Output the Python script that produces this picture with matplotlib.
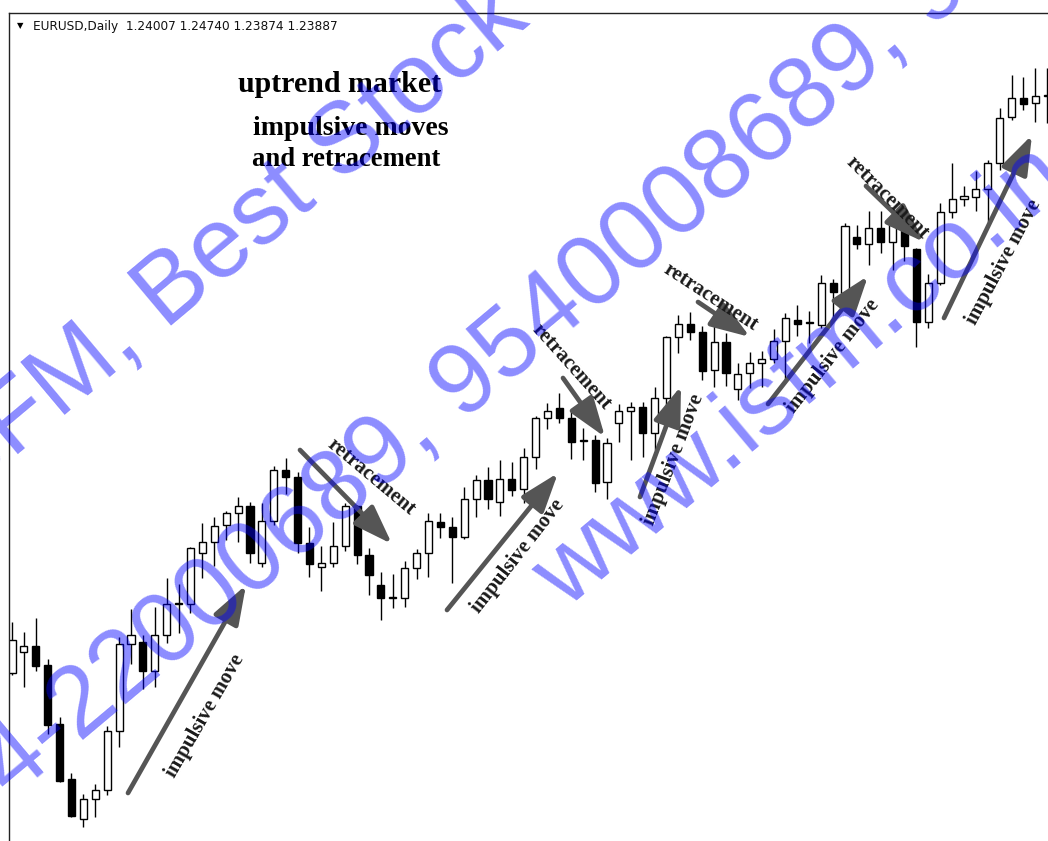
import numpy as np
import matplotlib.pyplot as plt

# candle data (arbitrary price units, one candle per day)
opens = [168, 189, 195, 176, 117, 62, 22, 42, 51, 110, 197, 199, 170, 206, 237, 237,
         288, 299, 316, 328, 335, 278, 320, 371, 364, 298, 274, 278, 295, 335, 286, 256,
         243, 243, 273, 288, 319, 314, 304, 342, 361, 339, 362, 352, 384, 423, 433, 423,
         400, 401, 359, 418, 430, 434, 408, 443, 504, 517, 509, 471, 499, 452, 468, 478,
         482, 500, 521, 518, 516, 558, 548, 604, 597, 613, 599, 616, 592, 519, 558, 629,
         642, 644, 652, 678, 724, 743, 738, 745]
highs = [219, 209, 223, 182, 124, 68, 47, 57, 115, 204, 232, 206, 234, 263, 257, 294,
         318, 324, 330, 344, 339, 338, 375, 383, 369, 314, 295, 319, 338, 336, 293, 269,
         267, 280, 292, 328, 328, 324, 354, 366, 374, 381, 379, 393, 425, 438, 448, 430,
         413, 406, 403, 437, 439, 439, 454, 505, 526, 529, 515, 518, 508, 478, 489, 490,
         512, 528, 536, 530, 566, 562, 618, 616, 630, 630, 628, 617, 593, 567, 638, 678,
         655, 670, 681, 733, 766, 764, 773, 773]
lows = [166, 154, 170, 107, 59, 24, 14, 24, 46, 94, 177, 152, 154, 198, 208, 228,
        263, 275, 301, 299, 278, 274, 316, 347, 288, 264, 250, 274, 290, 277, 246, 221,
        233, 234, 262, 264, 303, 258, 302, 324, 332, 325, 345, 338, 372, 412, 418, 382,
        381, 349, 342, 399, 381, 384, 391, 428, 488, 501, 461, 454, 455, 441, 453, 454,
        478, 458, 505, 498, 513, 523, 543, 592, 576, 588, 571, 580, 494, 513, 556, 623,
        635, 630, 619, 671, 721, 731, 719, 718]
closes = [201, 195, 175, 116, 60, 25, 42, 51, 110, 197, 206, 170, 206, 237, 238, 293,
          299, 315, 328, 335, 288, 320, 371, 364, 298, 277, 278, 295, 335, 286, 266, 243,
          244, 273, 288, 320, 314, 304, 342, 361, 342, 362, 351, 384, 423, 430, 423, 399,
          401, 358, 398, 430, 434, 408, 443, 504, 517, 509, 470, 499, 468, 467, 478, 482,
          500, 523, 517, 519, 558, 549, 615, 597, 613, 599, 616, 595, 519, 558, 629, 642,
          645, 652, 678, 723, 743, 737, 745, 746]

header = "EURUSD,Daily  1.24007 1.24740 1.23874 1.23887"
title_lines = ["uptrend market", "impulsive moves", "and retracement"]
watermark = ["ISFM, Best Stock", "4-22000689, 9540008689, 9", "www.isfm.co.in"]

# arrows in picture pixels: (tail x, tail y, tip x, tip y)
arrows = [(128, 793, 246, 585), (300, 450, 392, 544), (447, 610, 558, 473),
          (563, 378, 605, 437), (640, 497, 681, 386), (698, 302, 750, 337),
          (768, 404, 868, 276), (866, 186, 924, 242), (944, 318, 1032, 135)]
# labels: (text, x, y, rotation)
labels = [("impulsive move", 205, 716, 60), ("retracement", 371, 477, -40),
          ("impulsive move", 518, 556, 52), ("retracement", 572, 367, -48),
          ("impulsive move", 674, 460, 69), ("retracement", 711, 297, -33),
          ("impulsive move", 833, 356, 52), ("retracement", 887, 198, -45),
          ("impulsive move", 1004, 262, 62)]

W, H = 1048, 841
fig = plt.figure(figsize=(W / 100, H / 100), dpi=100)

ax = fig.add_axes([9 / W, 0, 1 - 9 / W, 1 - 13 / H])
idx = np.arange(len(opens))
o = np.array(opens)
c = np.array(closes)
ax.vlines(idx, lows, highs, color='black', lw=1.0, zorder=1)
up = c >= o
body = np.maximum(np.abs(c - o), 1)
ax.bar(idx[up], body[up], bottom=o[up], width=0.6, color='white',
       edgecolor='black', lw=1.0, zorder=2)
ax.bar(idx[~up], body[~up], bottom=c[~up], width=0.6, color='black',
       edgecolor='black', lw=1.0, zorder=2)
ax.set_xlim(-0.25, 87.06)
ax.set_ylim(0, 828)
ax.set_xticks([])
ax.set_yticks([])
ax.spines['right'].set_visible(False)
ax.spines['bottom'].set_visible(False)
for s in ['left', 'top']:
    ax.spines[s].set_linewidth(1.0)
    ax.spines[s].set_color('#222222')

# overlay in pixel coordinates for the hand-drawn annotations
ov = fig.add_axes([0, 0, 1, 1], facecolor='none')
ov.set_xlim(0, W)
ov.set_ylim(H, 0)
ov.axis('off')

ov.text(20, 26, "\u25bc", fontsize=6, ha='center', va='center', color='black')
ov.text(33, 26, header, fontsize=8.7, ha='left', va='center', color='#111111',
        family='DejaVu Sans')

serif = 'Liberation Serif'
ov.text(340, 92, title_lines[0], fontsize=21.5, fontweight='bold', family=serif,
        ha='center', va='baseline')
ov.text(253, 135, title_lines[1], fontsize=20, fontweight='bold', family=serif,
        ha='left', va='baseline')
ov.text(252, 166, title_lines[2], fontsize=19.2, fontweight='bold', family=serif,
        ha='left', va='baseline')

for x0, y0, x1, y1 in arrows:
    ov.annotate('', xy=(x1, y1), xytext=(x0, y0),
                arrowprops=dict(arrowstyle='-|>,head_length=1.2,head_width=0.42',
                                lw=3.4, color='#555555', mutation_scale=20,
                                shrinkA=0, shrinkB=0))
for txt, x, y, rot in labels:
    ov.text(x, y, txt, fontsize=15, fontweight='bold', family=serif, color='#1a1a1a',
            rotation=rot, rotation_mode='anchor', ha='center', va='center')

# watermark over everything
wm_pos = [(-60, 520), (12, 800), (565, 610)]
for txt, (x, y) in zip(watermark, wm_pos):
    ov.text(x, y, txt, fontsize=72, family='Liberation Sans', color='blue', alpha=0.45,
            rotation=40, rotation_mode='anchor', ha='left', va='baseline',
            clip_on=True, zorder=10)

fig.savefig('out.png', dpi=100)
